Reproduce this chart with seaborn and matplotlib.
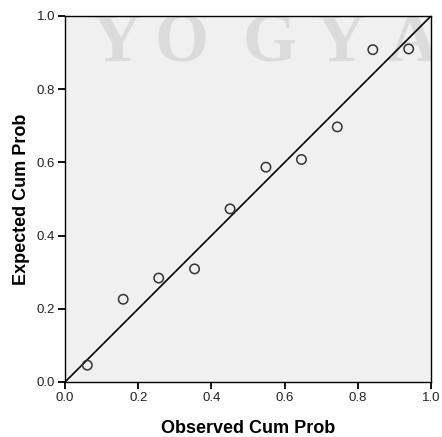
import matplotlib
matplotlib.use("Agg")
import matplotlib.pyplot as plt
import seaborn as sns
import pandas as pd

observed = [0.061, 0.159, 0.256, 0.354, 0.451, 0.549, 0.646, 0.744, 0.841, 0.939]
expected = [0.046, 0.226, 0.284, 0.309, 0.473, 0.587, 0.608, 0.697, 0.908, 0.910]
diag = [0.0, 1.0]
ticks = [0.0, 0.2, 0.4, 0.6, 0.8, 1.0]
tick_labels = ["0.0", "0.2", "0.4", "0.6", "0.8", "1.0"]
watermark = ["Y", "O", "G", "Y", "A"]

sns.set_style("white")
plt.rcParams["font.family"] = ["Liberation Sans", "DejaVu Sans"]

fig = plt.figure(figsize=(4.42, 4.37), dpi=100)
ax = fig.add_axes([65 / 442, 55 / 437, 366 / 442, 366 / 437])
ax.set_facecolor("#f0f0f0")

# watermark
wm_x = [117, 182, 270, 341, 412]
for letter, px in zip(watermark, wm_x):
    ax.text((px - 65) / 366, (382 - 61) / 366, letter, transform=ax.transAxes,
            fontsize=50, fontweight="bold", family=["Liberation Serif", "DejaVu Serif"],
            color="#dbdbdb", ha="center", va="baseline", clip_on=True, zorder=0)

df = pd.DataFrame({"observed": observed, "expected": expected})
sns.lineplot(x=diag, y=diag, ax=ax, color="black", linewidth=1.2, zorder=2)
sns.scatterplot(data=df, x="observed", y="expected", ax=ax, marker="o",
                s=46, facecolors="none", edgecolor="#333333", linewidth=1.1, zorder=3)

ax.set_xlim(0, 1)
ax.set_ylim(0, 1)
ax.set_xticks(ticks)
ax.set_xticklabels(tick_labels)
ax.set_yticks(ticks)
ax.set_yticklabels(tick_labels)
ax.tick_params(axis="both", direction="out", length=5, width=1.3, color="black",
               labelsize=9.5, labelcolor="#222222", pad=2)
ax.tick_params(axis="x", bottom=True)
ax.tick_params(axis="y", left=True)
for s in ax.spines.values():
    s.set_color("black")
    s.set_linewidth(1.0)

ax.set_xlabel("Observed Cum Prob", fontsize=13, fontweight="bold", labelpad=12, color="black")
ax.set_ylabel("Expected Cum Prob", fontsize=13, fontweight="bold", labelpad=5, color="black")

fig.savefig("out.png", dpi=100)
